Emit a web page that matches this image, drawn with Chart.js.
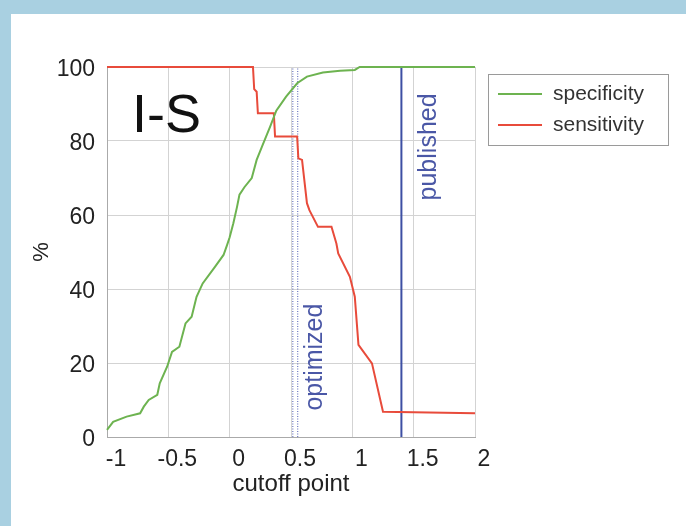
<!DOCTYPE html>
<html lang="en">
<head>
  <meta charset="UTF-8">
  <title>I-S cutoff</title>
  <script src="https://cdn.jsdelivr.net/npm/chart.js"></script>
  <style>
    body {
      margin: 0;
      background: #a9d0e1;
      width: 686px;
      height: 526px;
      overflow: hidden;
    }
    #panel {
      position: absolute;
      left: 11px;
      top: 14px;
      width: 675px;
      height: 512px;
      background: #fff;
    }
  </style>
</head>
<body>
  <div id="panel"><canvas id="chart" width="675" height="512"></canvas></div>

  <script>
    const specX = [-1.0, -0.95, -0.84, -0.73, -0.70, -0.66, -0.59, -0.57, -0.51, -0.47, -0.41, -0.36, -0.31, -0.27, -0.22, -0.12, -0.05, -0.02, 0.0, 0.03, 0.06, 0.08, 0.12, 0.18, 0.22, 0.27, 0.33, 0.38, 0.46, 0.55, 0.63, 0.76, 0.90, 1.02, 1.06, 2.0];
    const specY = [1.9, 4.1, 5.5, 6.4, 8.2, 10, 11.4, 14.5, 19, 23, 24.4, 30.7, 32.5, 37.9, 41.5, 46, 49.2, 52, 54, 57.8, 62.2, 65.5, 67.5, 70, 74.9, 79, 83.9, 88.2, 92, 95.6, 97.4, 98.5, 99.0, 99.2, 100, 100];
    const sensX = [-1.0, 0.19, 0.20, 0.22, 0.23, 0.36, 0.37, 0.55, 0.56, 0.59, 0.63, 0.65, 0.72, 0.83, 0.87, 0.885, 0.98, 1.02, 1.05, 1.16, 1.25, 2.0];
    const sensY = [100, 100, 94, 93.3, 87.5, 87.5, 81.2, 81.2, 75.3, 74.9, 63.2, 61.3, 56.8, 56.8, 52.3, 49.6, 43.3, 37.9, 24.9, 19.9, 6.8, 6.4];
    const optimizedX = [0.515, 0.555];
    const publishedX = 1.40;
    const xTicks = [-1, 2, 0.5];   // min, max, step
    const yTicks = [0, 100, 20];

    const toPoints = (xs, ys) => xs.map((x, i) => ({ x: x, y: ys[i] }));
    const vline = x => [{ x: x, y: yTicks[0] }, { x: x, y: yTicks[1] }];

    Chart.defaults.font.family = '"Liberation Sans", Arial, sans-serif';
    Chart.defaults.color = '#222';

    // boxed legend on the right, like the original figure
    const boxLegend = {
      id: 'boxLegend',
      afterDraw(chart) {
        const ctx = chart.ctx;
        ctx.save();
        ctx.strokeStyle = '#9a9a9a';
        ctx.lineWidth = 1;
        ctx.strokeRect(477.5, 60.5, 180, 71);
        ctx.font = '21px "Liberation Sans", Arial, sans-serif';
        ctx.textBaseline = 'middle';
        ctx.fillStyle = '#333';
        chart.data.datasets.slice(0, 2).forEach((ds, i) => {
          const y = 80 + i * 31;
          ctx.strokeStyle = ds.borderColor;
          ctx.lineWidth = 2;
          ctx.beginPath();
          ctx.moveTo(487, y);
          ctx.lineTo(531, y);
          ctx.stroke();
          ctx.fillText(ds.label, 542, y);
        });
        ctx.restore();
      }
    };

    // panel label and the rotated line labels
    const notes = {
      id: 'notes',
      afterDatasetsDraw(chart) {
        const { ctx, scales: { x, y } } = chart;
        ctx.save();
        ctx.textAlign = 'center';
        ctx.textBaseline = 'middle';
        ctx.fillStyle = '#111';
        ctx.font = '54px "Liberation Sans", Arial, sans-serif';
        ctx.fillText('I-S', x.getPixelForValue(-0.515), y.getPixelForValue(86.5));

        ctx.fillStyle = '#4a57a6';
        ctx.font = '25px "Liberation Sans", Arial, sans-serif';
        [['optimized', 0.696, 21.6], ['published', 1.625, 78.4]].forEach(([t, vx, vy]) => {
          ctx.save();
          ctx.translate(x.getPixelForValue(vx), y.getPixelForValue(vy));
          ctx.rotate(-Math.PI / 2);
          ctx.fillText(t, 0, 0);
          ctx.restore();
        });
        ctx.restore();
      }
    };

    new Chart(document.getElementById('chart'), {
      type: 'line',
      data: {
        datasets: [
          {
            label: 'specificity',
            data: toPoints(specX, specY),
            borderColor: '#6db350',
            borderWidth: 2,
            clip: 4
          },
          {
            label: 'sensitivity',
            data: toPoints(sensX, sensY),
            borderColor: '#e84b3b',
            borderWidth: 2,
            clip: 4
          },
          {
            label: 'optimized',
            data: vline(optimizedX[0]),
            borderColor: '#4f5cb4',
            borderWidth: 1,
            borderDash: [1, 1.5]
          },
          {
            label: 'optimized',
            data: vline(optimizedX[1]),
            borderColor: '#4f5cb4',
            borderWidth: 1,
            borderDash: [1, 1.5]
          },
          {
            label: 'published',
            data: vline(publishedX),
            borderColor: '#3d4fa3',
            borderWidth: 2
          }
        ]
      },
      options: {
        responsive: false,
        animation: false,
        elements: {
          point: { radius: 0 },
          line: { tension: 0 }
        },
        layout: {
          padding: { left: 0, right: 211, top: 53, bottom: 19 }
        },
        scales: {
          x: {
            type: 'linear',
            min: xTicks[0],
            max: xTicks[1],
            afterFit: s => { s.height = 70; },
            ticks: {
              stepSize: xTicks[2],
              callback: v => String(v),
              font: { size: 23 },
              padding: 9,
              labelOffset: 9,
              color: '#222'
            },
            grid: { color: '#d3d3d3', drawTicks: false },
            border: { color: '#aaa' },
            title: {
              display: true,
              text: 'cutoff point',
              font: { size: 24 },
              color: '#222',
              padding: { top: 0, bottom: 8 }
            }
          },
          y: {
            min: yTicks[0],
            max: yTicks[1],
            afterFit: s => { s.width = 96; },
            ticks: {
              stepSize: yTicks[2],
              callback: v => String(v),
              font: { size: 23 },
              padding: 12,
              labelOffset: 3,
              color: '#222'
            },
            grid: { color: '#d3d3d3', drawTicks: false },
            border: { color: '#aaa' },
            title: {
              display: true,
              text: '%',
              font: { size: 22 },
              color: '#222',
              padding: { top: 18, bottom: 0 }
            }
          }
        },
        plugins: {
          legend: { display: false },
          tooltip: { enabled: false }
        }
      },
      plugins: [boxLegend, notes]
    });
  </script>
</body>
</html>
